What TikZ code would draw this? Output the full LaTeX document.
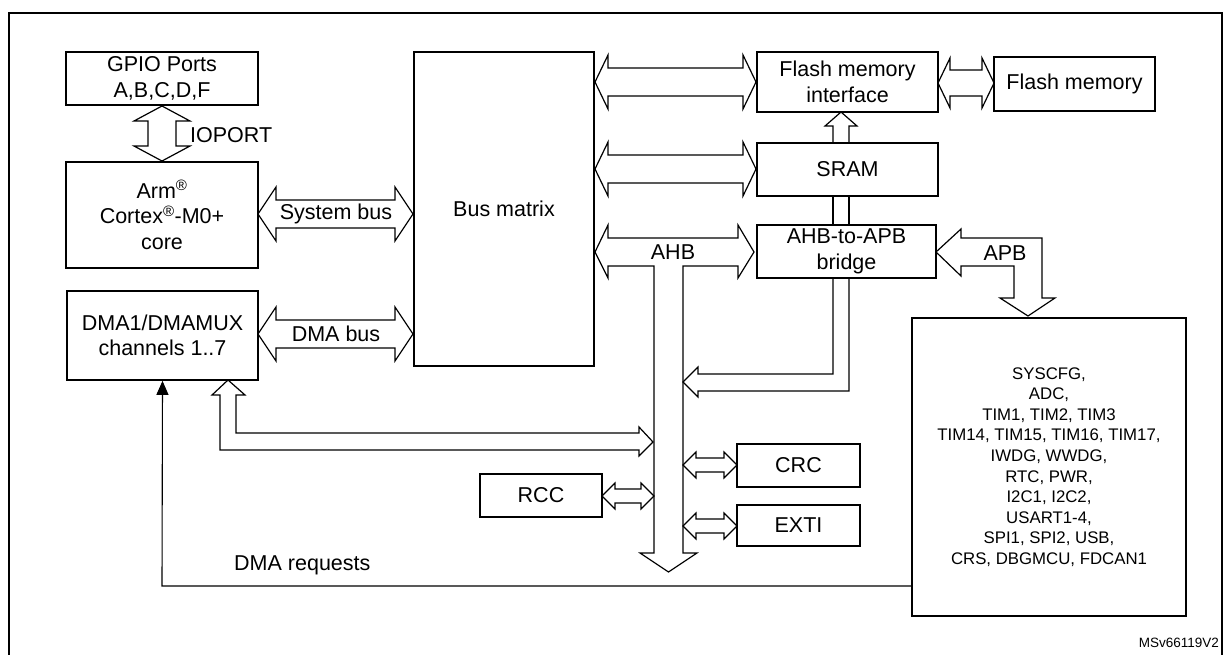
\documentclass[tikz,border=0pt]{standalone}
\usepackage{fontspec}
\setmainfont{Liberation Sans}
\usepackage{tikz}
\usetikzlibrary{arrows.meta}

% hollow block arrows (all values in px of the figure)
\newcommand{\hbus}[6]{% x1, x2, y, half shaft, half head, head length
    \draw[busline] (#1,#3) -- ({#1+#6},{#3-#5}) -- ({#1+#6},{#3-#4}) -- ({#2-#6},{#3-#4})
        -- ({#2-#6},{#3-#5}) -- (#2,#3) -- ({#2-#6},{#3+#5}) -- ({#2-#6},{#3+#4})
        -- ({#1+#6},{#3+#4}) -- ({#1+#6},{#3+#5}) -- cycle;}
\newcommand{\vbus}[6]{% x, y1, y2, half shaft, half head, head length
    \draw[busline] (#1,#2) -- ({#1-#5},{#2+#6}) -- ({#1-#4},{#2+#6}) -- ({#1-#4},{#3-#6})
        -- ({#1-#5},{#3-#6}) -- (#1,#3) -- ({#1+#5},{#3-#6}) -- ({#1+#4},{#3-#6})
        -- ({#1+#4},{#2+#6}) -- ({#1+#5},{#2+#6}) -- cycle;}

\begin{document}
\begin{tikzpicture}[x=1pt, y=-1pt,
        box/.style={draw, line width=1.7pt, inner sep=0pt, align=center,
                    font=\fontsize{21.5}{25.5}\selectfont},
        busline/.style={line width=1.2pt, line join=miter},
        lbl/.style={font=\fontsize{21.5}{24}\selectfont, inner sep=0pt}]
    \useasboundingbox (0,0) rectangle (1230,654);
    \draw[line width=1.2pt] (9,13) rectangle (1222,680);

    % blocks
    \node[box, minimum width=192, minimum height=53]  (gpio)   at (162,78.5)  {GPIO Ports\\A,B,C,D,F};
    \node[box, minimum width=192, minimum height=106] (cpu)    at (162,215)   {Arm\textsuperscript{®}\\Cortex\textsuperscript{®}-M0+\\core};
    \node[box, minimum width=191, minimum height=89]  (dma)    at (162.5,335.5) {DMA1/DMAMUX\\channels 1..7};
    \node[box, minimum width=180, minimum height=314] (matrix) at (504,209)   {Bus matrix};
    \node[box, minimum width=181, minimum height=60]  (fmi)    at (847.5,82)  {Flash memory\\interface};
    \node[box, minimum width=161, minimum height=54]  (flash)  at (1074.5,84) {Flash memory};
    \node[box, minimum width=181, minimum height=53]  (sram)   at (847.5,169.5) {SRAM};
    \node[box, minimum width=179, minimum height=53]  (bridge) at (846.5,251.5) {AHB-to-APB\\bridge};
    \node[box, minimum width=274, minimum height=298, font=\fontsize{16.8}{20.6}\selectfont]
          (periph) at (1049,467) {SYSCFG,\\ADC,\\TIM1, TIM2, TIM3\\TIM14, TIM15, TIM16, TIM17,\\IWDG, WWDG,\\RTC, PWR,\\I2C1, I2C2,\\USART1-4,\\SPI1, SPI2, USB,\\CRS, DBGMCU, FDCAN1};
    \node[box, minimum width=123, minimum height=43]  (crc)    at (798.5,465.5) {CRC};
    \node[box, minimum width=123, minimum height=41]  (exti)   at (798.5,525.5) {EXTI};
    \node[box, minimum width=122, minimum height=43]  (rcc)    at (541,495.5) {RCC};

    % buses
    \vbus{162}{106}{161}{14}{28}{15}
    \hbus{258}{413}{214}{14}{27}{18}
    \hbus{258}{413}{334}{14}{27}{18}
    \hbus{595}{756}{82}{14}{27}{13}
    \hbus{595}{756}{169}{14}{27}{13}
    \hbus{938}{994}{83}{13}{25}{12}
    \hbus{602}{654}{496}{7}{13}{13}
    \hbus{683}{737}{465}{7}{13}{13}
    \hbus{683}{737}{526}{7}{13}{13}
    % AHB
    \draw[busline] (595,252) -- (608,225) -- (608,238) -- (738,238) -- (738,225) -- (754,252)
        -- (738,278) -- (738,266) -- (683,266) -- (683,553) -- (697,553) -- (668.5,572)
        -- (640,553) -- (654,553) -- (654,266) -- (608,266) -- (608,278) -- cycle;
    % SRAM to flash interface
    \draw[busline] (833,143) -- (833,126) -- (825,126) -- (841,112) -- (857,126) -- (849,126) -- (849,143);
    \draw[busline] (833,196) -- (833,225) (849,196) -- (849,225);
    % bridge back to AHB
    \draw[busline] (833,278) -- (833,374) -- (698,374) -- (698,367) -- (683,382)
        -- (698,397) -- (698,391) -- (849,391) -- (849,278);
    % APB
    \draw[busline] (936,252) -- (961,229) -- (961,238) -- (1042,238) -- (1042,298) -- (1055,298)
        -- (1028,316) -- (1000,298) -- (1014,298) -- (1014,266) -- (961,266) -- (961,276) -- cycle;
    % DMA to AHB
    \draw[busline] (228,380) -- (245,395) -- (236,395) -- (236,433) -- (639,433) -- (639,427)
        -- (653,442) -- (639,456) -- (639,450) -- (220,450) -- (220,395) -- (212,395) -- cycle;

    % DMA requests
    \coordinate (req) at (162,586);
    \draw[line width=1.1pt, -{Triangle[length=14pt, width=12pt]}] (periph.west |- req) -- (req) -- (dma.south);

    % labels
    \node[lbl, anchor=west] (ioport) at (190,135) {IOPORT};
    \node[lbl] (sysbus) at (336,214) {System bus};
    \node[lbl] (dmabus) at (336,334) {DMA bus};
    \node[lbl] (ahb)    at (673,252) {AHB};
    \node[lbl] (apb)    at (1005,253) {APB};
    \node[lbl, anchor=west] (dmareq) at (234,565) {DMA requests};
    \node[font=\fontsize{13.5}{16}\selectfont, inner sep=0pt, anchor=east] (ref) at (1219,643) {MSv66119V2};
\end{tikzpicture}
\end{document}
